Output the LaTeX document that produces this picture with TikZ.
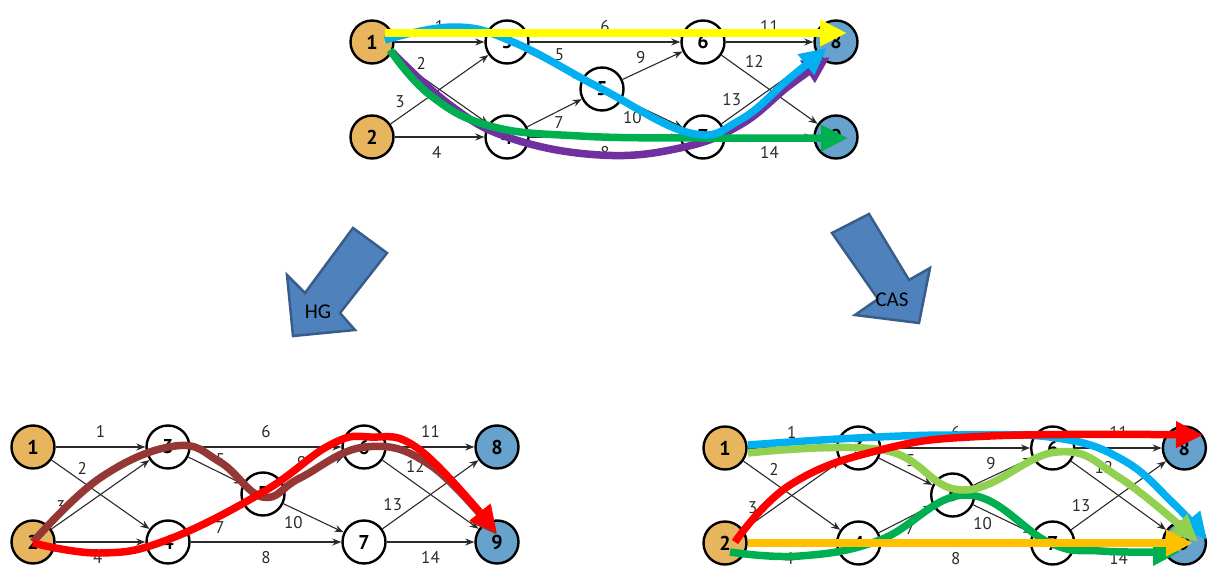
\documentclass[tikz,border=0pt]{standalone}
\usepackage{fontspec}
\setmainfont{PT Sans}
\newfontfamily\calib{Carlito}
\usetikzlibrary{arrows.meta}
\definecolor{srcc}{HTML}{E6B55E}
\definecolor{snkc}{HTML}{66A2CC}
\definecolor{edgec}{HTML}{2A2A2A}
\definecolor{barrow}{HTML}{4F81BD}
\definecolor{barrowd}{HTML}{385D8A}
\definecolor{fyellow}{HTML}{FFFF00}
\definecolor{fcyan}{HTML}{00B0F0}
\definecolor{fpurple}{HTML}{7030A0}
\definecolor{fgreen}{HTML}{00B050}
\definecolor{fbrown}{HTML}{953735}
\definecolor{fred}{HTML}{FF0000}
\definecolor{flgreen}{HTML}{92D050}
\definecolor{forange}{HTML}{FFC000}
\tikzset{
 gn/.style={circle, draw=black, line width=2.4pt, minimum size=43pt, inner sep=0pt, font=\fontsize{20}{20}\selectfont\bfseries},
 midn/.style={gn, fill=white},
 srcn/.style={gn, fill=srcc},
 snkn/.style={gn, fill=snkc},
 gedge/.style={draw=edgec, line width=1.1pt, -{Stealth[length=9pt,width=7pt]}},
 elab/.style={font=\fontsize{17}{17}\selectfont, text=edgec, inner sep=1pt},
 flow/.style={line width=7.5pt, -{Triangle[length=27pt,width=25pt]}},
 barr/.style={fill=barrow, draw=barrowd, line width=2.5pt, line join=miter},
 btext/.style={font=\calib\fontsize{21}{21}\selectfont, text=black},
}
\newcommand{\netgraph}[1]{%
  \node[srcn] (#1n1) at (0,0) {1};
  \node[srcn] (#1n2) at (0,95) {2};
  \node[midn] (#1n3) at (135,0) {3};
  \node[midn] (#1n4) at (135,95) {4};
  \node[midn] (#1n5) at (230,47) {5};
  \node[midn] (#1n6) at (331,0) {6};
  \node[midn] (#1n7) at (331,95) {7};
  \node[snkn] (#1n8) at (464,0) {8};
  \node[snkn] (#1n9) at (464,95) {9};
  \draw[gedge] (#1n1) -- node[elab,above=8pt]{1} (#1n3);
  \draw[gedge] (#1n1) -- node[elab,pos=.24,above right=1pt]{2} (#1n4);
  \draw[gedge] (#1n2) -- node[elab,pos=.18,above left=2pt]{3} (#1n3);
  \draw[gedge] (#1n2) -- node[elab,pos=.47,below=8pt]{4} (#1n4);
  \draw[gedge] (#1n3) -- node[elab,pos=.44,above right=2pt]{5} (#1n5);
  \draw[gedge] (#1n3) -- node[elab,above=8pt]{6} (#1n6);
  \draw[gedge] (#1n4) -- node[elab,pos=.45,below right=1pt]{7} (#1n5);
  \draw[gedge] (#1n4) -- node[elab,below=8pt]{8} (#1n7);
  \draw[gedge] (#1n5) -- node[elab,pos=.44,above left=2pt]{9} (#1n6);
  \draw[gedge] (#1n5) -- node[elab,pos=.36,below left=1pt]{10} (#1n7);
  \draw[gedge] (#1n6) -- node[elab,above=8pt]{11} (#1n8);
  \draw[gedge] (#1n6) -- node[elab,pos=.22,above right=1pt]{12} (#1n9);
  \draw[gedge] (#1n7) -- node[elab,pos=.23,above left=1pt]{13} (#1n8);
  \draw[gedge] (#1n7) -- node[elab,below=8pt]{14} (#1n9);
}
\begin{document}
\begin{tikzpicture}[x=1pt,y=-1pt]
\useasboundingbox (0,0) rectangle (1217,572);
% top graph
\begin{scope}[shift={(372,42)}]
  \netgraph{t}
\end{scope}
% bottom-left graph
\begin{scope}[shift={(33,447)}]
  \netgraph{l}
\end{scope}
% bottom-right graph
\begin{scope}[shift={(725,448)}, xscale=0.99]
  \netgraph{r}
\end{scope}
% top flows
\draw[flow, fpurple] plot[smooth, tension=0.7] coordinates {(392,52) (450,105) (510,138) (600,155) (680,148) (740,125) (790,85) (830,57)};
\draw[flow, fgreen] plot[smooth, tension=0.7] coordinates {(390,50) (430,95) (490,126) (580,136) (700,138) (848,138)};
\draw[flow, fcyan] plot[smooth, tension=0.7] coordinates {(385,40) (454,27) (513,42) (600,88) (690,133) (740,120) (790,78) (827,48)};
\draw[flow, fyellow] (385,33) -- (847,33);
% bottom-left flows
\draw[flow, fbrown] plot[smooth, tension=0.7] coordinates {(33,542) (100,478) (175,446) (220,462) (263,497) (300,478) (365,447) (430,465) (497,535)};
\draw[flow, fred] plot[smooth, tension=0.7] coordinates {(33,543) (100,553) (167,540) (263,492) (330,445) (370,437) (420,450) (497,533)};
% bottom-right flows
\draw[flow, fcyan] plot[smooth, tension=0.7] coordinates {(748,445) (857,438) (957,435) (1057,438) (1123,460) (1173,503) (1207,540)};
\draw[flow, fgreen] plot[smooth, tension=0.7] coordinates {(730,552) (800,556) (880,540) (967,495) (1050,543) (1100,551) (1180,552)};
\draw[flow, flgreen] plot[smooth, tension=0.7] coordinates {(748,453) (883,450) (963,490) (1057,452) (1120,478) (1198,542)};
\draw[flow, forange] (748,543) -- (1193,543);
\draw[flow, fred] plot[smooth, tension=0.7] coordinates {(735,542) (790,485) (880,450) (990,436) (1203,435)};
% block arrows
\draw[barr] (353,228) -- (387,253) -- (340,313) -- (355,330) -- (293,336) -- (287,275) -- (305,293) -- cycle;
\node[btext] (hg) at (318,312) {HG};
\draw[barr] (869,214) -- (832,233) -- (878,299) -- (855,315) -- (919,323) -- (930,268) -- (909,280) -- cycle;
\node[btext] (cas) at (892,300) {CAS};
\end{tikzpicture}
\end{document}
